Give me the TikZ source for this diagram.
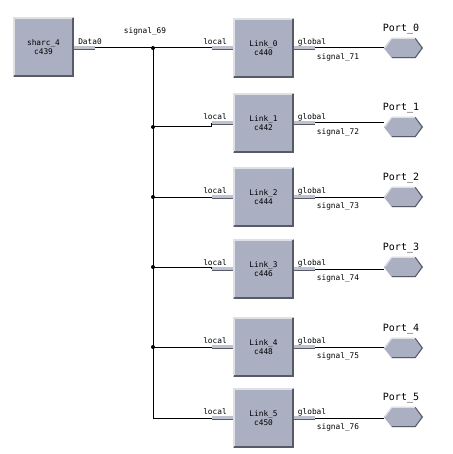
\documentclass[tikz,border=0pt]{standalone}
\usepackage{fontspec}
\newfontfamily\pix{DejaVu Sans Mono}
\definecolor{boxfill}{RGB}{171,175,194}
\definecolor{hl}{RGB}{222,224,230}
\definecolor{sh}{RGB}{88,90,104}
\definecolor{pinfill}{RGB}{190,193,206}
\newcommand\mybevel[1]{%
  \draw[hl, line width=2pt] ([shift={(1,-1)}]#1.south west) -- ([shift={(1,1)}]#1.north west) -- ([shift={(-1,1)}]#1.north east);
  \draw[sh, line width=2pt] ([shift={(-1,1)}]#1.north east) -- ([shift={(-1,-1)}]#1.south east) -- ([shift={(1,-1)}]#1.south west);}
\newcommand\myhex[1]{%
  \fill[boxfill] (#1.west) -- ([xshift=8pt]#1.north west) -- ([xshift=-8pt]#1.north east) -- (#1.east) -- ([xshift=-8pt]#1.south east) -- ([xshift=8pt]#1.south west) -- cycle;
  \draw[hl, line width=1pt] ([shift={(1,0)}]#1.west) -- ([shift={(8,0.5)}]#1.north west) -- ([shift={(-8,0.5)}]#1.north east);
  \draw[sh, line width=1pt] ([shift={(-8,0.5)}]#1.north east) -- ([shift={(-1,0)}]#1.east) -- ([shift={(-8,-0.5)}]#1.south east) -- ([shift={(8,-0.5)}]#1.south west);}
\begin{document}
\begin{tikzpicture}[x=1pt,y=-1pt,
  blk/.style={rectangle, fill=boxfill, minimum width=61pt, minimum height=60pt, inner sep=0pt, align=center, font=\pix\fontsize{7.8}{8.3}\selectfont},
  pin/.style={rectangle, fill=pinfill, minimum width=21pt, minimum height=3.5pt, inner sep=0pt},
  lbl/.style={font=\pix\fontsize{7.8}{8}\selectfont, inner sep=0pt},
  plbl/.style={font=\pix\fontsize{10}{11}\selectfont, inner sep=0pt},
  wire/.style={line width=1pt, black},
  hexn/.style={rectangle, minimum width=39pt, minimum height=20pt, inner sep=0pt},
  dot/.style={circle, fill=black, inner sep=0pt, minimum size=4pt}]
\useasboundingbox (0,0) rectangle (452,454);
\fill[white] (0,0) rectangle (452,454);
% source block
\node[blk] (sharc) at (43.5,47) {sharc\_4\\c439};
\mybevel{sharc}
\node[pin] (dpin) at (84.5,48) {};
\draw[sh, line width=1pt] (dpin.south west) -- (dpin.south east);
\node[lbl] (dlbl) at (90,42) {Data0};
\node[lbl] (s69) at (145,31) {signal\_69};
\coordinate (j0) at (153,48);
\coordinate (j5) at (153,418);
\draw[wire] (dpin.east) -- (j0);
\draw[wire] (j0) -- (j5);
\foreach \i/\y/\c/\py/\jy in {0/48/440/48/48, 1/123/442/127/127, 2/197/444/197/197, 3/269/446/267/267, 4/347/448/348/347, 5/418/450/417/418}{
  \pgfmathtruncatemacro\s{71+\i}
  \node[blk] (link\i) at (263.5,\y) {Link\_\i\\c\c};
  \mybevel{link\i}
  \node[pin] (pl\i) at (222.5,\y) {};
  \node[pin] (pg\i) at (304.5,\y) {};
  \draw[sh, line width=1pt] (pl\i.south west) -- (pl\i.south east);
  \draw[sh, line width=1pt] (pg\i.south west) -- (pg\i.south east);
  \node[lbl] (ll\i) at (215,\y-6) {local};
  \node[lbl] (gl\i) at (312,\y-6) {global};
  \node[lbl] (sl\i) at (338,\y+9) {signal\_\s};
  \node[hexn] (port\i) at (403.5,\py) {};
  \myhex{port\i}
  \node[plbl] (pt\i) at (401,\py-19) {Port\_\i};
  \coordinate (j\i) at (153,\jy);
  \draw[wire] (j\i) -| (pl\i.west);
  \draw[wire] (pg\i.east) -- (pg\i.east -| port\i.west);
}
\foreach \i in {0,...,4}{ \node[dot] (d\i) at (j\i) {}; }
\end{tikzpicture}
\end{document}
